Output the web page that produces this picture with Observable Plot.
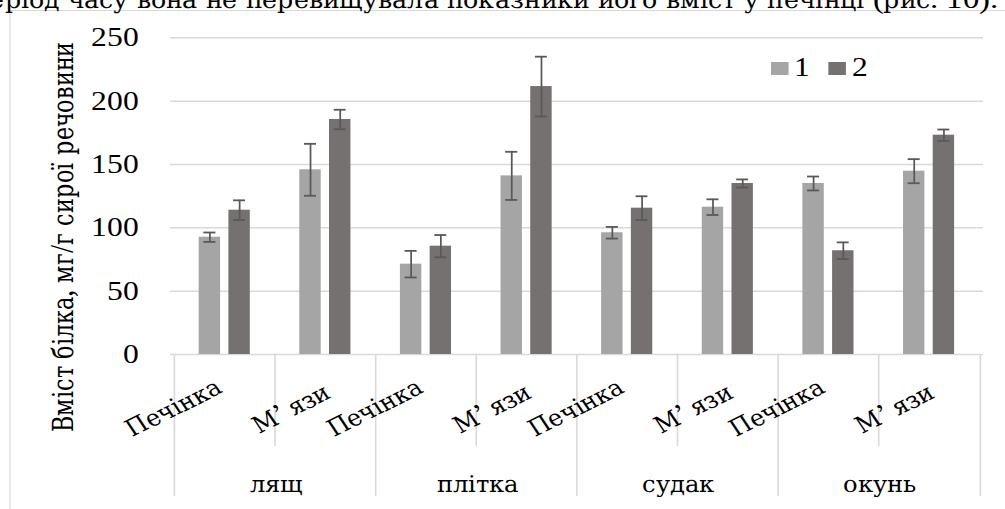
<!DOCTYPE html>
<html>
<head>
<meta charset="utf-8">
<script src="https://cdn.jsdelivr.net/npm/d3@7"></script>
<script src="https://cdn.jsdelivr.net/npm/@observablehq/plot@0.6"></script>
<style>
  @font-face { font-family: "RefSerif"; src: local("Liberation Serif"), local("LiberationSerif"); unicode-range: U+0000-03FF, U+2000-206F; }
  @font-face { font-family: "RefSerif"; src: local("DejaVu Serif Condensed"), local("DejaVuSerifCondensed"), local("DejaVu Serif"), local("DejaVuSerif");
               size-adjust: 86%; unicode-range: U+0400-04FF; }
  html, body { margin: 0; padding: 0; background: #fff; width: 1005px; height: 509px; overflow: hidden; }
  #stage { position: absolute; left: 0; top: 0; height: 509px; transform-origin: 0 0;
           font-family: "RefSerif", "Liberation Serif", serif; color: #000; }
  #topline { position: absolute; right: 6px; top: -17.5px; font-size: 28px; line-height: 31px; white-space: nowrap; }
  #frame { position: absolute; left: 7.8px; top: 10.3px; width: 1000px; height: 600px;
           border-left: 1.4px solid #d9d9d9; border-top: 1.5px solid #d9d9d9; }
  #chart { position: absolute; left: 0; top: 0; }
  #chart svg, #chart svg text, #chart svg g { font-family: "RefSerif", "Liberation Serif", serif !important; }
  #legend { position: absolute; left: 659px; top: 55px; display: flex; align-items: center; font-size: 27px; line-height: 27px; }
  #legend .sw { width: 15px; height: 13px; margin-right: 5px; }
  #legend .lb { margin-right: 15px; position: relative; top: -1.5px; }
</style>
</head>
<body>
<div id="stage">
  <div id="frame"></div>
  <div id="topline"></div>
  <div id="chart"></div>
  <div id="legend"></div>
</div>
<script>
// ---- data ----
const fish = ["лящ", "плітка", "судак", "окунь"];
const tissues = ["Печінка", "М’ язи"];
const seriesNames = ["1", "2"];
const values1 = [92.6, 145.8, 71.3, 141.0, 96.1, 116.3, 135.0, 144.7];
const errors1 = [3.7, 20.5, 10.5, 19.0, 4.6, 6.2, 5.5, 9.5];
const values2 = [113.9, 185.5, 85.5, 211.5, 115.5, 135.0, 81.9, 173.1];
const errors2 = [7.8, 7.7, 8.8, 23.6, 9.4, 3.2, 6.6, 4.5];
const yTicks = [0, 50, 100, 150, 200, 250];
const yTitle = "Вміст білка, мг/г сирої речовини";
const topText = "період часу вона не перевищувала показники його вміст у печінці (рис. 10).";
const colors = ["#a5a5a5", "#767171"];

// ---- layout ----
const S = 1.17;                 // horizontal stretch of the reference picture
const W = 1005 / S, H = 509;
const plotLeft = 170 / S, plotRight = 983 / S, plotTop = 37.3, plotBottom = 354;
const band = (plotRight - plotLeft) / 8;
const serif = '"RefSerif", "Liberation Serif", serif';

const keys = fish.flatMap(f => tissues.map(t => f + "|" + t));
const rows1 = keys.map((k, i) => ({key: k, series: seriesNames[0], value: values1[i], err: errors1[i]}));
const rows2 = keys.map((k, i) => ({key: k, series: seriesNames[1], value: values2[i], err: errors2[i]}));
const liverKeys = keys.filter(k => k.endsWith(tissues[0]));
const muscleKeys = keys.filter(k => k.endsWith(tissues[1]));
const groupStarts = liverKeys.map(k => ({key: k, fish: k.split("|")[0]}));
const label = k => k.split("|")[1];

const errColor = "#595959";
const gridColor = "#d9d9d9";

function errorMarks(rows, dx, capL, capR) {
  return [
    Plot.ruleX(rows, {x: "key", y1: d => d.value - d.err, y2: d => d.value + d.err, dx, stroke: errColor, strokeWidth: 1.5}),
    Plot.tickY(rows, {x: "key", y: d => d.value + d.err, insetLeft: capL, insetRight: capR, stroke: errColor, strokeWidth: 1.8}),
    Plot.tickY(rows, {x: "key", y: d => d.value - d.err, insetLeft: capL, insetRight: capR, stroke: errColor, strokeWidth: 1.8})
  ];
}

function draw() {
  const plot = Plot.plot({
    width: W, height: H,
    marginLeft: plotLeft, marginRight: W - plotRight, marginTop: plotTop, marginBottom: H - plotBottom,
    x: {type: "band", domain: keys, paddingInner: 0, paddingOuter: 0, axis: null},
    y: {domain: [0, 250], axis: null},
    color: {domain: seriesNames, range: colors},
    style: {fontFamily: serif, fontSize: "27px", color: "#000", background: "transparent", overflow: "visible"},
    marks: [
      Plot.gridY(yTicks, {stroke: gridColor, strokeOpacity: 1, strokeWidth: 1.5}),
      // category separators below the axis
      Plot.ruleX(groupStarts, {x: "key", dx: -band / 2, insetTop: plotBottom - plotTop, insetBottom: -(496 - plotBottom), stroke: gridColor, strokeWidth: 1.4}),
      Plot.ruleX([keys[keys.length - 1]], {x: d => d, dx: band / 2, insetTop: plotBottom - plotTop, insetBottom: -(496 - plotBottom), stroke: gridColor, strokeWidth: 1.4}),
      Plot.ruleX(muscleKeys, {x: d => d, dx: -band / 2, insetTop: plotBottom - plotTop, insetBottom: -(446 - plotBottom), stroke: gridColor, strokeWidth: 1.4}),
      Plot.barY(rows1, {x: "key", y: "value", fill: "series", insetLeft: 20.8, insetRight: 46.9}),
      Plot.barY(rows2, {x: "key", y: "value", fill: "series", insetLeft: 46.2, insetRight: 21.5}),
      ...errorMarks(rows1, -13.1, 24.8, 50.9),
      ...errorMarks(rows2, 12.3, 50.2, 25.6),
      Plot.axisY(yTicks, {tickSize: 0, tickPadding: 27, fontSize: 27, fontFamily: serif, label: null}),
      Plot.axisX(liverKeys, {tickSize: 0, tickRotate: -30, tickFormat: label, textAnchor: "end", lineAnchor: "middle", dx: -6.5, dy: 18, fontSize: 27, fontFamily: serif, label: null}),
      Plot.axisX(muscleKeys, {tickSize: 0, tickRotate: -30, tickFormat: label, textAnchor: "end", lineAnchor: "middle", dx: 1, dy: 23, fontSize: 27, fontFamily: serif, label: null}),
      Plot.text(groupStarts, {x: "key", text: "fish", frameAnchor: "bottom", dx: band / 2, dy: 129, lineAnchor: "middle", textAnchor: "middle", fontSize: 27, fontFamily: serif}),
      Plot.text([yTitle], {frameAnchor: "left", text: d => d, rotate: -90, dx: -93, dy: 41, lineAnchor: "middle", textAnchor: "middle", fontSize: 29, fontFamily: serif})
    ]
  });

  const stage = document.getElementById("stage");
  stage.style.width = W + "px";
  stage.style.transform = `scaleX(${S})`;
  document.getElementById("chart").appendChild(plot);
  document.getElementById("topline").textContent = topText;

  const colorScale = plot.scale("color");
  const legend = document.getElementById("legend");
  colorScale.domain.forEach((name, i) => {
    const sw = document.createElement("div");
    sw.className = "sw";
    sw.style.background = colorScale.range[i];
    const lb = document.createElement("span");
    lb.className = "lb";
    lb.textContent = name;
    legend.appendChild(sw);
    legend.appendChild(lb);
  });
}
draw();
</script>
</body>
</html>
